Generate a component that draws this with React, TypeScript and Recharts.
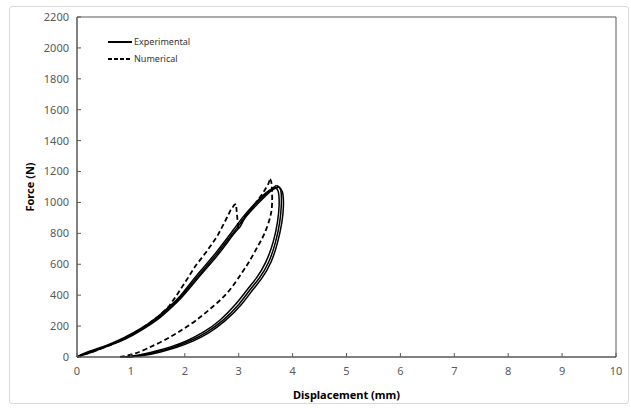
import React from "react";
import { LineChart, Line, XAxis, YAxis, Legend, ReferenceArea, Label } from "recharts";

// tick values
const xTicks = [0, 1, 2, 3, 4, 5, 6, 7, 8, 9, 10];
const yTicks = [0, 200, 400, 600, 800, 1000, 1200, 1400, 1600, 1800, 2000, 2200];

// experimental cycles (displacement mm, force N)
const expLoading1 = [
  [0, 0], [0.17, 24], [0.6, 78], [0.91, 125], [1.22, 186], [1.53, 261], [1.84, 358], [2.0, 420],
  [2.3, 545], [2.6, 670], [2.9, 805], [3.0, 850], [3.1, 900], [3.3, 985], [3.55, 1070], [3.7, 1110],
];
const expUnloading1 = [
  [3.7, 1110], [3.78, 1080], [3.79, 980], [3.76, 870], [3.68, 740], [3.55, 610], [3.38, 510], [3.2, 430],
  [3.0, 340], [2.7, 235], [2.4, 160], [2.1, 105], [1.8, 65], [1.5, 35], [1.2, 12], [0.9, 0],
];
const expLoading2 = [
  [0, 0], [0.2, 22], [0.6, 74], [0.95, 126], [1.25, 186], [1.55, 258], [1.86, 356], [2.03, 420],
  [2.33, 545], [2.63, 668], [2.93, 805], [3.03, 845], [3.13, 905], [3.35, 990], [3.6, 1075], [3.74, 1100],
];
const expUnloading2 = [
  [3.74, 1100], [3.81, 1070], [3.83, 980], [3.8, 870], [3.72, 740], [3.6, 615], [3.43, 510], [3.25, 430],
  [3.05, 340], [2.75, 235], [2.45, 158], [2.15, 103], [1.85, 63], [1.55, 33], [1.25, 11], [0.95, 0],
];
const expLoading3 = [
  [0, 0], [0.15, 26], [0.58, 80], [0.88, 126], [1.2, 188], [1.5, 262], [1.82, 360], [1.98, 422],
  [2.27, 548], [2.57, 672], [2.87, 808], [2.97, 855], [3.07, 902], [3.27, 982], [3.5, 1060], [3.66, 1095],
];
const expUnloading3 = [
  [3.66, 1095], [3.73, 1075], [3.75, 985], [3.72, 875], [3.64, 745], [3.5, 612], [3.33, 512], [3.15, 432],
  [2.95, 345], [2.65, 238], [2.35, 162], [2.05, 107], [1.75, 67], [1.45, 37], [1.15, 13], [0.85, 0],
];

// numerical model
const numLoading = [
  [0, 0], [0.3, 35], [0.6, 75], [0.9, 120], [1.2, 185], [1.5, 260], [1.7, 325], [1.85, 400],
  [2.0, 480], [2.2, 590], [2.4, 680], [2.6, 780], [2.75, 880], [2.85, 950], [2.92, 985], [2.95, 990],
  [2.99, 840], [3.1, 900], [3.3, 990], [3.45, 1060], [3.55, 1120], [3.58, 1150],
];
const numUnloading = [
  [3.58, 1150], [3.61, 1120], [3.62, 1000], [3.58, 900], [3.48, 800], [3.36, 720], [3.2, 620],
  [3.05, 540], [2.8, 420], [2.5, 320], [2.2, 235], [1.9, 165], [1.6, 105], [1.3, 55], [1.05, 20], [0.8, 0],
];

const expCurves = [expLoading1, expUnloading1, expLoading2, expUnloading2, expLoading3, expUnloading3];

const legendItems = [
  { name: "Experimental", dash: undefined },
  { name: "Numerical", dash: "4 2" },
];

const toRows = (pts: number[][]) => pts.map(([x, y]) => ({ x, y }));

const tickStyle = { fontSize: 11, fill: "#595959", fontFamily: "Noto Sans" };

const LegendBox = () => (
  <div style={{ fontFamily: "Noto Sans", fontSize: 9, color: "#333" }}>
    {legendItems.map((it) => (
      <div key={it.name} style={{ display: "flex", alignItems: "center", height: 17 }}>
        <svg width={24} height={6}>
          <line x1={0} y1={3} x2={24} y2={3} stroke="#000" strokeWidth={2} strokeDasharray={it.dash} />
        </svg>
        <span style={{ marginLeft: 2 }}>{it.name}</span>
      </div>
    ))}
  </div>
);

export default function App() {
  return (
    <div style={{ position: "absolute", left: 0, top: 0, width: 631, height: 408, background: "#fff" }}>
      <div
        style={{
          position: "absolute",
          left: 9,
          top: 6,
          width: 618,
          height: 396,
          border: "1px solid #d9d9d9",
          borderRadius: 3,
        }}
      />
      <LineChart width={631} height={408} margin={{ top: 17, right: 15, bottom: 6, left: 10 }}>
        <XAxis
          type="number"
          dataKey="x"
          domain={[0, 10]}
          ticks={xTicks}
          allowDuplicatedCategory={false}
          tick={tickStyle}
          tickSize={-4}
          tickMargin={14}
          height={45}
          stroke="#595959"
        >
          <Label
            value="Displacement (mm)"
            position="insideBottom"
            offset={3}
            style={{ fontSize: 11, fontWeight: "bold", fill: "#000", fontFamily: "Noto Sans" }}
          />
        </XAxis>
        <YAxis
          type="number"
          domain={[0, 2200]}
          ticks={yTicks}
          tick={tickStyle}
          tickSize={-4}
          tickMargin={12}
          width={67}
          stroke="#595959"
        >
          <Label
            value="Force (N)"
            angle={-90}
            position="insideLeft"
            offset={20}
            style={{ fontSize: 11, fontWeight: "bold", fill: "#000", fontFamily: "Noto Sans", textAnchor: "middle" }}
          />
        </YAxis>
        <ReferenceArea x1={0} x2={10} y1={0} y2={2200} fill="none" stroke="#595959" strokeWidth={1} />
        {expCurves.map((c, i) => (
          <Line
            key={`exp-${i}`}
            type="natural"
            data={toRows(c)}
            dataKey="y"
            stroke="#000"
            strokeWidth={1.5}
            dot={false}
            isAnimationActive={false}
          />
        ))}
        <Line
          type="linear"
          data={toRows(numLoading)}
          dataKey="y"
          stroke="#000"
          strokeWidth={1.8}
          strokeDasharray="5 3"
          dot={false}
          isAnimationActive={false}
        />
        <Line
          type="natural"
          data={toRows(numUnloading)}
          dataKey="y"
          stroke="#000"
          strokeWidth={1.8}
          strokeDasharray="5 3"
          dot={false}
          isAnimationActive={false}
        />
        <Legend
          layout="vertical"
          align="center"
          verticalAlign="middle"
          content={<LegendBox />}
          wrapperStyle={{ left: 108, top: 33, width: 120 }}
        />
      </LineChart>
    </div>
  );
}
